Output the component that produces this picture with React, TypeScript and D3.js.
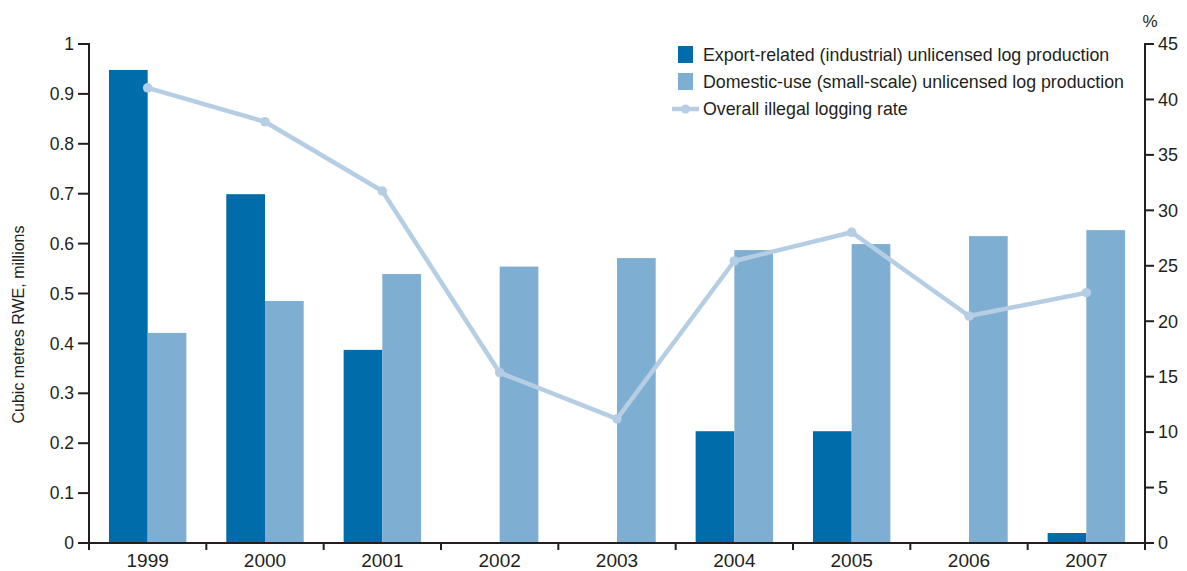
import React from "react";
import * as d3 from "d3";

const years = ["1999", "2000", "2001", "2002", "2003", "2004", "2005", "2006", "2007"];
const exportRelated = [0.948, 0.699, 0.387, 0, 0, 0.224, 0.224, 0, 0.02];
const domesticUse = [0.421, 0.485, 0.539, 0.554, 0.571, 0.587, 0.599, 0.615, 0.627];
const illegalRate = [41.05, 37.99, 31.74, 15.36, 11.2, 25.43, 28.02, 20.47, 22.57];
const leftTicks = [0, 0.1, 0.2, 0.3, 0.4, 0.5, 0.6, 0.7, 0.8, 0.9, 1];
const rightTicks = [0, 5, 10, 15, 20, 25, 30, 35, 40, 45];
const legendLabels = [
  "Export-related (industrial) unlicensed log production",
  "Domestic-use (small-scale) unlicensed log production",
  "Overall illegal logging rate",
];

const W = 1187;
const H = 571;
const left = 89;
const right = 1145;
const top = 44;
const bottom = 543;
const DARK = "#006ca9";
const LIGHT = "#7faed3";
const LINE = "#b5cee4";
const AXIS = "#231f20";
const TEXT = "#231f20";
const FONT = "'Liberation Sans', Arial, sans-serif";

export default function App() {
  const x = d3.scaleBand<string>().domain(years).range([left, right]).paddingInner(0).paddingOuter(0);
  const bw = 38.7;
  const yL = d3.scaleLinear().domain([0, 1]).range([bottom, top]);
  const yR = d3.scaleLinear().domain([0, 45]).range([bottom, top]);
  const cx = (d: string) => (x(d) as number) + x.bandwidth() / 2;
  const line = d3
    .line<number>()
    .x((_, i) => cx(years[i]))
    .y((d) => yR(d));

  return (
    <svg width={W} height={H} style={{ position: "absolute", left: 0, top: 0 }} fontFamily={FONT}>
      <rect width={W} height={H} fill="#fff" />
      {years.map((yr, i) => (
        <g key={yr}>
          {exportRelated[i] > 0 && (
            <rect x={cx(yr) - bw} y={yL(exportRelated[i])} width={bw} height={bottom - yL(exportRelated[i])} fill={DARK} />
          )}
          <rect x={cx(yr)} y={yL(domesticUse[i])} width={bw} height={bottom - yL(domesticUse[i])} fill={LIGHT} />
        </g>
      ))}
      <path d={line(illegalRate) || ""} fill="none" stroke={LINE} strokeWidth={4.5} strokeLinejoin="round" />
      {illegalRate.map((v, i) => (
        <circle key={i} cx={cx(years[i])} cy={yR(v)} r={4.8} fill={LINE} />
      ))}

      {/* left axis */}
      <line x1={left} x2={left} y1={top - 1} y2={bottom + 6} stroke={AXIS} strokeWidth={2} />
      {leftTicks.map((t) => (
        <g key={t}>
          <line x1={left - 11} x2={left} y1={yL(t)} y2={yL(t)} stroke={AXIS} strokeWidth={2} />
          <text x={left - 15} y={yL(t)} dy="0.35em" textAnchor="end" fontSize={17.5} fill={TEXT}>
            {t}
          </text>
        </g>
      ))}
      <text
        transform={`translate(24,${(top + bottom) / 2 + 31}) rotate(-90)`}
        textAnchor="middle"
        fontSize={16}
        fill={TEXT}
      >
        Cubic metres RWE, millions
      </text>

      {/* right axis */}
      <line x1={right} x2={right} y1={top - 1} y2={bottom + 6} stroke={AXIS} strokeWidth={2} />
      {rightTicks.map((t) => (
        <g key={t}>
          <line x1={right} x2={right + 9} y1={yR(t)} y2={yR(t)} stroke={AXIS} strokeWidth={2} />
          <text x={right + 13} y={yR(t)} dy="0.35em" textAnchor="start" fontSize={18} fill={TEXT}>
            {t}
          </text>
        </g>
      ))}
      <text x={right + 5} y={27} textAnchor="middle" fontSize={17} fill={TEXT}>
        %
      </text>

      {/* bottom axis */}
      <line x1={left - 1} x2={right + 1} y1={bottom} y2={bottom} stroke={AXIS} strokeWidth={2} />
      {years.concat(["end"]).map((yr, i) => {
        const tx = left + i * x.bandwidth();
        return <line key={yr} x1={tx} x2={tx} y1={bottom} y2={bottom + 7} stroke={AXIS} strokeWidth={2} />;
      })}
      {years.map((yr) => (
        <text key={yr} x={cx(yr)} y={bottom + 24} textAnchor="middle" fontSize={19} fill={TEXT}>
          {yr}
        </text>
      ))}

      {/* legend */}
      <rect x={678} y={46} width={15} height={17} fill={DARK} />
      <rect x={678} y={73} width={15} height={17} fill={LIGHT} />
      <line x1={672} x2={699} y1={109} y2={109} stroke={LINE} strokeWidth={4.5} />
      <circle cx={685.5} cy={109} r={4.5} fill={LINE} />
      {legendLabels.map((l, i) => (
        <text key={l} x={703} y={55 + i * 27} dy="0.35em" fontSize={17.8} fill={TEXT}>
          {l}
        </text>
      ))}
    </svg>
  );
}
